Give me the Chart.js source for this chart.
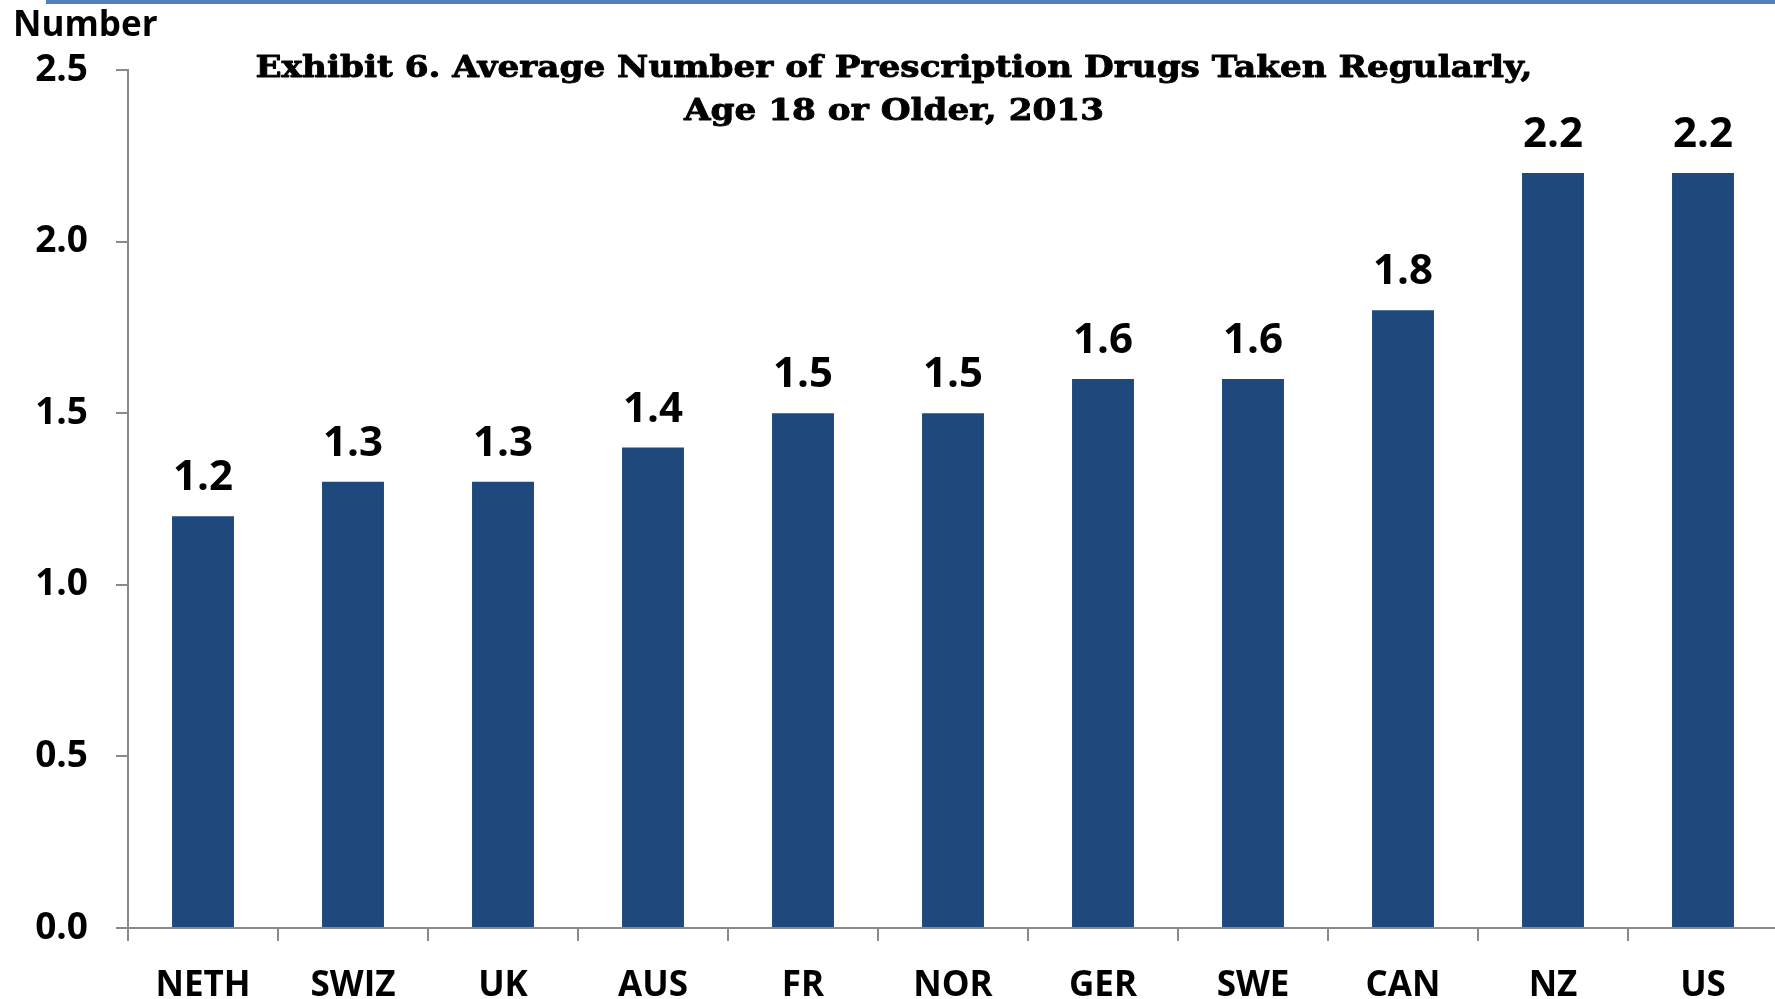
<!DOCTYPE html>
<html>
<head>
<meta charset="utf-8">
<title>Exhibit 6</title>
<script src="https://cdn.jsdelivr.net/npm/chart.js@4"></script>
<style>
  html, body { margin: 0; padding: 0; overflow: hidden; background: #fff; }
  #wrap { width: 1778px; height: 999px; position: relative; }
</style>
</head>
<body>
<div id="wrap"><canvas id="drugs-chart"></canvas></div>
<script>
// Average number of prescription drugs taken regularly, by country
const countries = ["NETH", "SWIZ", "UK", "AUS", "FR", "NOR", "GER", "SWE", "CAN", "NZ", "US"];
const avgDrugs = [1.2, 1.3, 1.3, 1.4, 1.5, 1.5, 1.6, 1.6, 1.8, 2.2, 2.2];
const yTicks = [0, 0.5, 1.0, 1.5, 2.0, 2.5];

const titleLines = [
  "Exhibit 6. Average Number of Prescription Drugs Taken Regularly,",
  "Age 18 or Older, 2013",
];
const yAxisLabel = "Number";

const axisGrey = "#898989";
const barBlue = "#1F497D";
const sansFont = "'Open Sans', 'DejaVu Sans', sans-serif";

// value labels over the bars
const barValues = {
  id: "barValues",
  afterDatasetsDraw(chart) {
    const ctx = chart.ctx;
    const meta = chart.getDatasetMeta(0);
    ctx.save();
    ctx.font = "bold 42px " + sansFont;
    ctx.fillStyle = "#000";
    ctx.textAlign = "center";
    ctx.textBaseline = "alphabetic";
    meta.data.forEach(function (bar, i) {
      ctx.fillText(avgDrugs[i].toFixed(1), bar.x, bar.y - 26);
    });
    ctx.restore();
  },
};

// heading, unit label and the rule along the top
const heading = {
  id: "heading",
  afterDraw(chart) {
    const ctx = chart.ctx;
    ctx.save();
    ctx.fillStyle = "#4F81BD";
    ctx.fillRect(46, 0, chart.width - 46, 4);

    ctx.fillStyle = "#000";
    ctx.font = "bold 35px " + sansFont;
    ctx.textAlign = "left";
    ctx.textBaseline = "alphabetic";
    ctx.fillText(yAxisLabel, 13, 36);

    // the serif heading is set wide and heavy: stretch it to its line length
    // and thicken the strokes a little
    ctx.font = "bold 30px 'DejaVu Serif', serif";
    ctx.textAlign = "center";
    const cx = 894;
    const stretch = 1277 / ctx.measureText(titleLines[0]).width;
    ctx.translate(cx, 0);
    ctx.scale(stretch, 1);
    ctx.strokeStyle = "#000";
    ctx.lineWidth = 0.9;
    ctx.lineJoin = "round";
    [[titleLines[0], 77], [titleLines[1], 120]].forEach(function (ln) {
      ctx.fillText(ln[0], 0, ln[1]);
      ctx.strokeText(ln[0], 0, ln[1]);
    });
    ctx.restore();
  },
};

let ctx_drugs = document.getElementById("drugs-chart").getContext("2d");
let chart_drugs = new Chart(ctx_drugs, {
  type: "bar",
  data: {
    labels: countries,
    datasets: [
      {
        data: avgDrugs,
        backgroundColor: barBlue,
        categoryPercentage: 1.0,
        barPercentage: 0.413,
      },
    ],
  },
  options: {
    responsive: true,
    maintainAspectRatio: false,
    animation: false,
    layout: {
      padding: { top: 70, left: 0, right: 0, bottom: 0 },
    },
    plugins: {
      legend: { display: false },
      tooltip: { enabled: false },
      title: { display: false },
    },
    scales: {
      x: {
        afterFit(scale) {
          scale.height = 71;
        },
        grid: {
          display: true,
          drawOnChartArea: false,
          drawTicks: true,
          tickLength: 13,
          color: axisGrey,
          lineWidth: 2,
        },
        border: { display: true, color: axisGrey, width: 2 },
        ticks: {
          color: "#000",
          padding: 24,
          font: { family: sansFont, size: 35, weight: "bold" },
        },
      },
      y: {
        min: 0,
        max: 2.5,
        afterFit(scale) {
          scale.width = 128;
        },
        afterBuildTicks(scale) {
          scale.ticks = yTicks.map((v) => ({ value: v }));
        },
        grid: {
          display: true,
          drawOnChartArea: false,
          drawTicks: true,
          tickLength: 12,
          color: axisGrey,
          lineWidth: 2,
        },
        border: { display: true, color: axisGrey, width: 2 },
        ticks: {
          color: "#000",
          padding: 28,
          font: { family: sansFont, size: 37, weight: "bold" },
          callback: (v) => Number(v).toFixed(1),
        },
      },
    },
  },
  plugins: [barValues, heading],
});
</script>
</body>
</html>
